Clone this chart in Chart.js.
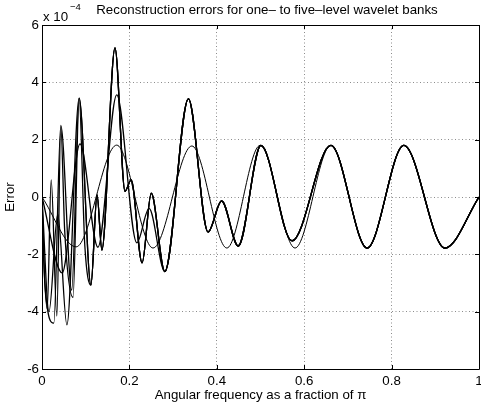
<!DOCTYPE html>
<html>
<head>
<meta charset="utf-8">
<script src="https://cdn.jsdelivr.net/npm/chart.js@4/dist/chart.umd.min.js"></script>
<style>
  html, body { margin: 0; padding: 0; background: #fff; }
  #wrap { width: 481px; height: 407px; }
</style>
</head>
<body>
<div id="wrap"><canvas id="chart" width="481" height="407"></canvas></div>
<script>
// ── Data (errors in units of 1e-4) ─────────────────────────────────────────
const X_TICKS = [0, 0.2, 0.4, 0.6, 0.8, 1];
const Y_TICKS = [-6, -4, -2, 0, 2, 4, 6];

// one-level bank
const L1_X = [0, 0.078, 0.171, 0.254, 0.343, 0.423, 0.499, 0.579, 0.661, 0.744, 0.828, 0.922, 1];
const L1_Y = [0, -1.74, 1.81, -1.78, 1.78, -1.78, 1.8, -1.78, 1.8, -1.78, 1.8, -1.78, 0];

// shared part of the two- to five-level banks
const TAIL_X = [0.281, 0.335, 0.38, 0.411, 0.449, 0.501, 0.572, 0.661, 0.744, 0.828, 0.922, 1];
const TAIL_Y = [-2.6, 3.42, -1.22, -0.14, -1.71, 1.8, -1.53, 1.8, -1.78, 1.8, -1.78, 0];

// two-level bank, low band
const L2_X = [0, 0.046, 0.087, 0.128, 0.171, 0.217, 0.245];
const L2_Y = [0, -2.65, 1.85, -1.75, 3.56, -1.6, -0.4];

// three-level bank, low band
const L3_X = [0, 0.016, 0.036, 0.057, 0.085, 0.112, 0.126, 0.137, 0.167, 0.19, 0.204, 0.229, 0.25];
const L3_Y = [0, -4.0, -0.6, -4.46, 3.45, -3.07, 0.07, -1.85, 5.2, 0.2, 0.6, -2.3, 0.13];

// four-level bank, lowest band (joins three-level at 0.085)
const L4_X = [0, 0.007, 0.027, 0.043, 0.068];
const L4_Y = [0, -3.1, -4.4, 2.5, -3.25];

// five-level bank, lowest band (joins three-level at 0.112)
const L5_X = [0, 0.004, 0.012, 0.021, 0.034, 0.043, 0.052, 0.071, 0.085, 0.098];
const L5_Y = [0, -2.2, -3.9, 0.6, -4.15, 2.45, -1.2, -3.5, 3.4, -1.7];

function pts(xs, ys) { return xs.map((x, i) => ({ x: x, y: ys[i] })); }
function join(headX, headY, fromX, restX, restY) {
  const xs = headX.slice(), ys = headY.slice();
  restX.forEach((x, i) => { if (x >= fromX) { xs.push(x); ys.push(restY[i]); } });
  return pts(xs, ys);
}

const L3_FULL_X = L3_X.concat(TAIL_X);
const L3_FULL_Y = L3_Y.concat(TAIL_Y);

const SERIES = [
  { data: pts(L1_X, L1_Y), width: 1 },
  { data: join(L2_X, L2_Y, 0.28, TAIL_X, TAIL_Y), width: 1.3 },
  { data: pts(L3_FULL_X, L3_FULL_Y), width: 1.3 },
  { data: join(L4_X, L4_Y, 0.085, L3_FULL_X, L3_FULL_Y), width: 1.3 },
  { data: join(L5_X, L5_Y, 0.112, L3_FULL_X, L3_FULL_Y), width: 1.3 },
];

const FONT = "'Liberation Sans', Arial, Helvetica, sans-serif";

// ── Frame plugin: box, inward ticks, title, exponent ───────────────────────
const frame = {
  id: 'frame',
  afterDraw(chart) {
    const { ctx, chartArea: a, scales } = chart;
    ctx.save();
    ctx.strokeStyle = '#000';
    ctx.lineWidth = 1;
    ctx.beginPath();
    ctx.rect(Math.round(a.left) + 0.5, Math.round(a.top) + 0.5,
             Math.round(a.right - a.left), Math.round(a.bottom - a.top));
    ctx.stroke();

    const tl = 4;
    ctx.beginPath();
    X_TICKS.forEach(v => {
      const px = Math.round(scales.x.getPixelForValue(v)) + 0.5;
      ctx.moveTo(px, a.bottom); ctx.lineTo(px, a.bottom - tl);
      ctx.moveTo(px, a.top); ctx.lineTo(px, a.top + tl);
    });
    Y_TICKS.forEach(v => {
      const py = Math.round(scales.y.getPixelForValue(v)) + 0.5;
      ctx.moveTo(a.left, py); ctx.lineTo(a.left + tl, py);
      ctx.moveTo(a.right, py); ctx.lineTo(a.right - tl, py);
    });
    ctx.stroke();

    ctx.fillStyle = '#000';
    ctx.textBaseline = 'middle';
    ctx.textAlign = 'center';
    ctx.font = '13.3px ' + FONT;
    ctx.fillText('Reconstruction errors for one\u2013 to five\u2013level wavelet banks', 267, 10);

    ctx.textAlign = 'left';
    ctx.fillText('x 10', 43, 17);
    ctx.font = '9.5px ' + FONT;
    ctx.fillText('\u22124', 70, 7);
    ctx.restore();
  }
};

const tickFont = { family: FONT, size: 13.3 };

new Chart(document.getElementById('chart'), {
  type: 'line',
  data: {
    datasets: SERIES.map(s => ({
      data: s.data,
      borderColor: '#000',
      borderWidth: s.width,
      pointRadius: 0,
      fill: false,
      cubicInterpolationMode: 'monotone',
    }))
  },
  options: {
    responsive: false,
    animation: false,
    layout: { padding: { top: 25, right: 2, left: 0, bottom: 0 } },
    plugins: { legend: { display: false }, tooltip: { enabled: false }, title: { display: false } },
    scales: {
      x: {
        type: 'linear', min: 0, max: 1,
        afterBuildTicks: s => { s.ticks = X_TICKS.map(v => ({ value: v })); },
        afterFit: s => { s.height = 38; s.paddingLeft = 0; s.paddingRight = 0; },
        ticks: { color: '#000', font: tickFont, padding: 4, maxRotation: 0,
                 callback: v => String(v) },
        grid: { color: '#8c8c8c', lineWidth: 1, drawTicks: false },
        border: { display: false, dash: [1, 2.5] },
        title: { display: true, text: 'Angular frequency as a fraction of \u03c0', color: '#000',
                 font: tickFont, padding: { top: 0, bottom: 4 } },
      },
      y: {
        type: 'linear', min: -6, max: 6,
        afterBuildTicks: s => { s.ticks = Y_TICKS.map(v => ({ value: v })); },
        afterFit: s => { s.width = 42; s.paddingTop = 0; s.paddingBottom = 0; },
        ticks: { color: '#000', font: tickFont, padding: 3, callback: v => String(v) },
        grid: { color: '#8c8c8c', lineWidth: 1, drawTicks: false },
        border: { display: false, dash: [1, 2.5] },
        title: { display: true, text: 'Error', color: '#000', font: tickFont,
                 padding: { top: 2, bottom: 0 } },
      }
    }
  },
  plugins: [frame]
});
</script>
</body>
</html>
